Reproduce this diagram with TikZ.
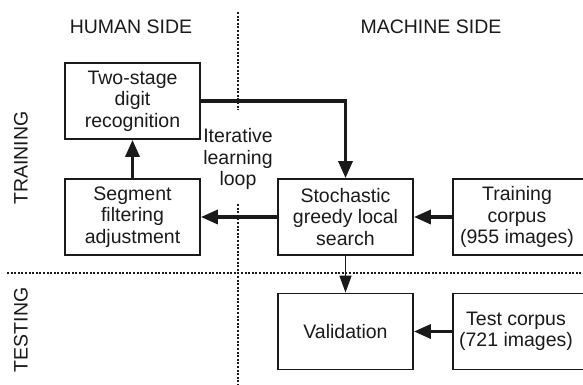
\documentclass[tikz,border=0pt]{standalone}
\usepackage{fontspec}
\setmainfont{Liberation Sans}
\usetikzlibrary{arrows.meta}
\definecolor{ink}{HTML}{1A1A1A}
\tikzset{
  box/.style={draw=ink, line width=1.8pt, minimum width=135pt, minimum height=76pt,
    inner sep=0pt, align=center, text=ink, font=\fontsize{19.5}{21.5}\selectfont},
  lbl/.style={text=ink, inner sep=0pt, align=center, font=\fontsize{19.5}{21.5}\selectfont},
  thickarrow/.style={draw=ink, line width=3.4pt, -{Triangle[length=17pt,width=14pt]}},
  thinarrow/.style={draw=ink, line width=1.6pt, -{Triangle[length=17pt,width=12pt]}},
  divider/.style={draw=ink, line width=1.1pt, dash pattern=on 2pt off 1.6pt}
}
\begin{document}
\begin{tikzpicture}[x=1pt,y=-1pt]
\clip (0,0) rectangle (583,385);
\fill[white] (0,0) rectangle (583,385);
% dividers
\draw[divider] (238,12) -- (238,110);
\draw[divider] (238,204) -- (238,385);
\draw[divider] (7,273) -- (583,273);
% headers
\node[lbl] (human) at (131,27) {HUMAN SIDE};
\node[lbl] (machine) at (431,27) {MACHINE SIDE};
\node[lbl, rotate=90] (training) at (21,158) {TRAINING};
\node[lbl, rotate=90] (testing) at (21,330) {TESTING};
% boxes
\node[box] (two) at (132.5,101) {Two-stage\\digit\\recognition};
\node[box] (seg) at (132.5,217) {Segment\\filtering\\adjustment};
\node[box] (stoch) at (345.5,217) {Stochastic\\greedy local\\search};
\node[box, minimum width=131pt] (train) at (518.5,217) {};
\node[lbl] (traintext) at (517,217) {Training\\corpus\\(955 images)};
\node[box] (val) at (345.5,331.5) {Validation};
\node[box, minimum width=131pt] (test) at (518.5,331.5) {};
\node[lbl] (testtext) at (516,331.5) {Test corpus\\(721 images)};
\node[lbl] (loop) at (238,159) {Iterative\\learning\\loop};
% connectors
\draw[thickarrow] (two.east) -| (stoch.north);
\draw[thickarrow] (seg.north) -- (two.south);
\draw[thickarrow] (stoch.west) -- (seg.east);
\draw[thickarrow] (train.west) -- (stoch.east);
\draw[thinarrow] (stoch.south) -- (val.north);
\draw[thickarrow] (test.west) -- (val.east);
\end{tikzpicture}
\end{document}
